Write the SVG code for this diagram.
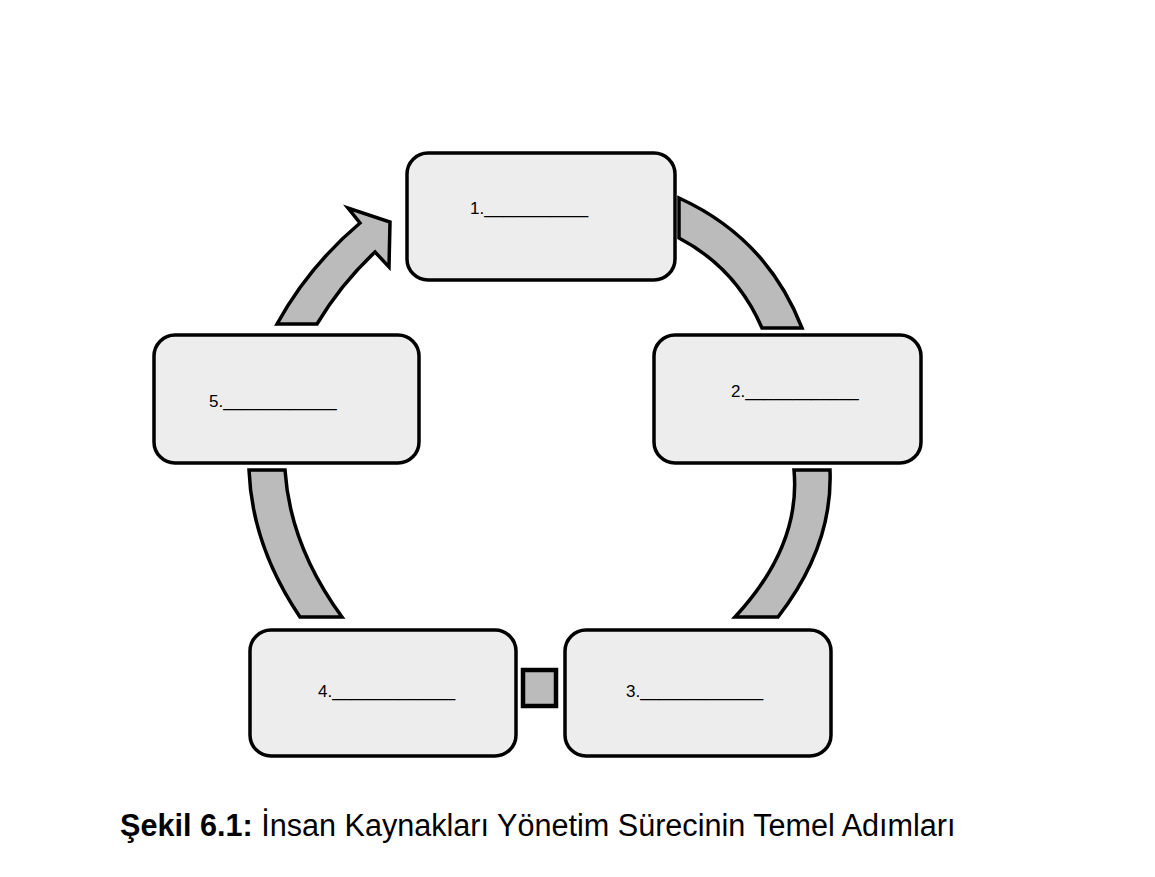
<svg xmlns="http://www.w3.org/2000/svg" width="1155" height="877" viewBox="0 0 1155 877">
<style>
.box{fill:#ededed;stroke:#000;stroke-width:3.5}
.arr{fill:#bbbbbb;stroke:#000;stroke-width:3.5;stroke-linejoin:miter}
.lbl{font-family:"Liberation Sans",Arial,sans-serif;font-size:17px;fill:#000}
.cap{font-family:"Liberation Sans",Arial,sans-serif;font-size:30.6px;fill:#000}
</style>
<rect width="1155" height="877" fill="#fff"/>
<g id="connectors">
<path class="arr" d="M679,198 Q767,238 802,328 L762,328 Q736,268 679,238 Z"/>
<path class="arr" d="M830,470 Q833,546 778,617 L735,617 Q801,546 794,470 Z"/>
<path class="arr" d="M249,470 Q252,546 300,617 L342,617 Q290,546 285,470 Z"/>
<path class="arr" d="M277,324 Q309,266 360,223 L348,208 L390,222 L389,267 L375,252 Q341,284 317,324 Z"/>
<rect class="arr" x="523" y="670" width="33" height="36" style="stroke-width:4.5"/>
</g>
<g id="node1">
<rect class="box" x="407" y="153" width="268" height="127" rx="21"/>
<text class="lbl" x="470" y="214">1.___________</text>
</g>
<g id="node2">
<rect class="box" x="654" y="335" width="267" height="128" rx="21"/>
<text class="lbl" x="731" y="397">2.____________</text>
</g>
<g id="node3">
<rect class="box" x="565" y="630" width="266" height="126" rx="21"/>
<text class="lbl" x="626" y="697">3._____________</text>
</g>
<g id="node4">
<rect class="box" x="250" y="630" width="266" height="126" rx="21"/>
<text class="lbl" x="318" y="697">4._____________</text>
</g>
<g id="node5">
<rect class="box" x="154" y="335" width="265" height="128" rx="21"/>
<text class="lbl" x="209" y="407">5.____________</text>
</g>
<g id="caption">
<text class="cap" x="120" y="836"><tspan font-weight="bold">Şekil 6.1:</tspan> İnsan Kaynakları Yönetim Sürecinin Temel Adımları</text>
</g>
</svg>
